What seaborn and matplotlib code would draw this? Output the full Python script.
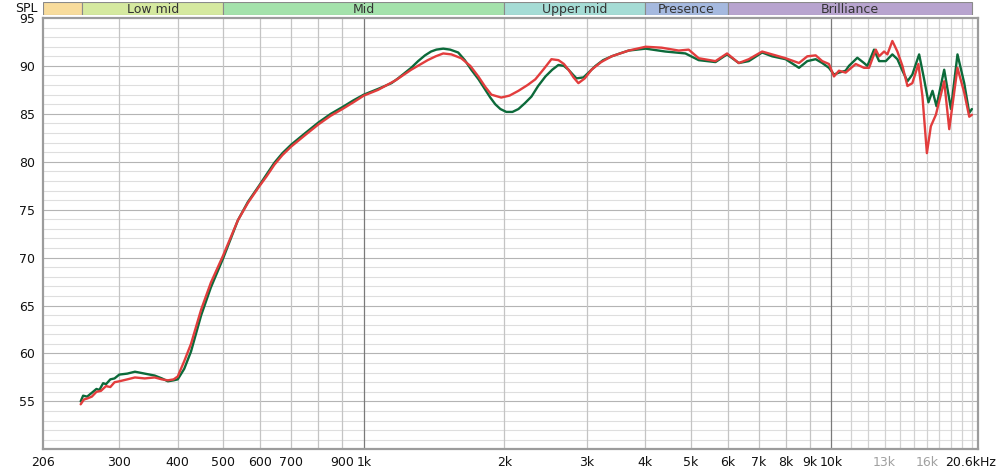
import matplotlib
matplotlib.use("Agg")
import matplotlib.pyplot as plt
import matplotlib.transforms as mtransforms
import seaborn as sns
import pandas as pd

# Frequency response traces (Hz, dB SPL)
green_freq = [248, 251, 256, 262, 268, 272, 277, 281, 287, 293,
              300, 312, 324, 340, 357, 370, 381, 392, 400,
              413, 427, 449, 471, 500, 538, 565, 597, 620, 644, 670, 700, 750, 800, 850, 900, 950, 1000,
              1073, 1146, 1184, 1263, 1307, 1352, 1393, 1430, 1479, 1530, 1592, 1645, 1698,
              1760, 1820, 1865, 1911, 1960, 2018, 2080, 2142, 2210, 2284, 2360, 2447, 2530,
              2609, 2680, 2741, 2800, 2851, 2951, 3040, 3131, 3250, 3390, 3530, 3686,
              4008, 4416, 4875, 5206, 5653, 5985, 6341,
              6662, 7114, 7474, 7985, 8530, 8886, 9261, 9566, 9886, 10134,
              10387, 10733, 10910, 11370, 11750, 11946, 12346, 12655, 13080, 13510,
              13850, 14198, 14554, 14908, 15415, 15800, 16140, 16465, 16790, 17440,
              18030, 18620, 19250, 19730, 19990]
green_spl = [55.0, 55.6, 55.5, 55.9, 56.3, 56.2, 56.9, 56.8, 57.3, 57.4,
             57.8, 57.9, 58.1, 57.9, 57.7, 57.4, 57.1, 57.2, 57.3,
             58.4, 60.2, 64.0, 66.9, 69.9, 73.9, 75.8, 77.5, 78.7, 79.9, 80.9, 81.8, 83.0, 84.1, 85.0, 85.7, 86.4, 87.0,
             87.6, 88.2, 88.7, 89.8, 90.5, 91.1, 91.5, 91.7, 91.8, 91.7, 91.4, 90.6, 89.6,
             88.6, 87.5, 86.7, 86.0, 85.5, 85.2, 85.2, 85.5, 86.1, 86.8, 87.9, 88.9, 89.6,
             90.1, 90.0, 89.6, 89.1, 88.7, 88.8, 89.4, 90.0, 90.6, 91.0, 91.3, 91.6,
             91.8, 91.5, 91.3, 90.6, 90.4, 91.2, 90.3,
             90.5, 91.4, 91.0, 90.7, 89.8, 90.5, 90.7, 90.3, 89.8, 89.1,
             89.3, 89.5, 90.0, 90.85, 90.3, 90.0, 91.7, 90.5, 90.5, 91.2,
             90.7, 89.5, 88.4, 89.1, 91.2, 88.6, 86.2, 87.4, 85.8, 89.6,
             85.5, 91.2, 88.2, 85.1, 85.5]

red_freq = [248, 252, 256, 262, 268, 274, 281, 287, 293, 300,
            312, 324, 340, 357, 370, 381, 392, 400,
            413, 427, 449, 471, 500, 538, 565, 597, 620, 644, 670, 700, 750, 800, 850, 900, 950, 1000,
            1073, 1170, 1263, 1370, 1425, 1479, 1540, 1616, 1690, 1758, 1820, 1875, 1968,
            2050, 2142, 2240, 2328, 2420, 2520, 2609, 2680, 2741, 2810, 2878, 2970, 3070,
            3220, 3390, 3686, 4008, 4337, 4718, 4954, 5206,
            5653, 5985, 6341, 6662, 7114, 7474, 7985, 8530, 8886, 9261,
            9566, 9886, 10134, 10387, 10733, 11281, 11750, 12045, 12451, 12655,
            12970, 13183, 13510, 13850, 14198, 14554, 14908, 15360, 15670, 16015,
            16330, 16740, 17440, 17880, 18620, 19250, 19730, 19990]
red_spl = [54.7, 55.2, 55.3, 55.5, 56.0, 56.1, 56.6, 56.5, 57.0, 57.1,
           57.3, 57.5, 57.4, 57.5, 57.3, 57.2, 57.3, 57.6,
           59.2, 61.0, 64.6, 67.4, 70.2, 73.9, 75.7, 77.4, 78.5, 79.7, 80.7, 81.6, 82.8, 83.9, 84.8, 85.5, 86.2, 86.9,
           87.5, 88.5, 89.6, 90.6, 91.0, 91.3, 91.2, 90.8, 90.0, 88.9, 87.8, 87.0, 86.7,
           86.9, 87.4, 88.0, 88.6, 89.6, 90.7, 90.6, 90.2, 89.6, 88.8, 88.2, 88.7, 89.6,
           90.4, 91.0, 91.6, 92.0, 91.9, 91.6, 91.7, 90.8,
           90.5, 91.3, 90.3, 90.7, 91.5, 91.2, 90.8, 90.3, 91.0, 91.1,
           90.5, 90.2, 88.9, 89.5, 89.3, 90.2, 89.8, 89.8, 91.7, 91.0,
           91.5, 91.2, 92.6, 91.5, 90.0, 87.9, 88.2, 90.2, 86.8, 80.9,
           83.7, 84.9, 88.4, 83.4, 89.8, 87.2, 84.7, 84.9]

# Band strip along the top
band_names = ["", "Low mid", "Mid", "Upper mid", "Presence", "Brilliance"]
band_edges = [206, 250, 500, 2000, 4000, 6000, 20000]
band_colors = ["#f8dc9c", "#d5e99f", "#a4e2ab", "#a5dcd5", "#a5b9df", "#b8a4cf"]

# Axis ticks
x_ticks = [206, 300, 400, 500, 600, 700, 900, 1000, 2000, 3000, 4000, 5000,
           6000, 7000, 8000, 9000, 10000, 13000, 16000, 20600]
x_labels = ["206", "300", "400", "500", "600", "700", "900", "1k", "2k", "3k", "4k", "5k",
            "6k", "7k", "8k", "9k", "10k", "13k", "16k", "20.6kHz"]
y_ticks = [55, 60, 65, 70, 75, 80, 85, 90, 95]

traces = pd.concat([
    pd.DataFrame({"freq": green_freq, "spl": green_spl, "trace": "green"}),
    pd.DataFrame({"freq": red_freq, "spl": red_spl, "trace": "red"}),
])

sns.set_style("white")
plt.rcParams["font.family"] = ["DejaVu Sans"]

fig = plt.figure(figsize=(10, 4.73), dpi=100)
ax = fig.add_axes([0.043, 0.05, 0.935, 0.912])
ax.set_xscale("log")
ax.set_xlim(206, 20600)
ax.set_ylim(50, 95)

# grid lines
for db in range(51, 95):
    ax.axhline(db, color="#b4b4b4" if db % 5 == 0 else "#dedede", lw=0.8, zorder=0)
for f in [300, 400, 500, 600, 700, 800, 900, 2000, 3000, 4000, 5000, 6000, 7000, 8000, 9000]:
    ax.axvline(f, color="#c4c4c4", lw=0.9, zorder=0)
for f in range(11000, 21000, 1000):
    ax.axvline(f, color="#d2d2d2", lw=0.9, zorder=0)
for f in [1000, 10000]:
    ax.axvline(f, color="#7a7a7a", lw=0.9, zorder=0)

sns.lineplot(data=traces, x="freq", y="spl", hue="trace", estimator=None,
             palette={"green": "#0c6a3a", "red": "#e23d3d"}, lw=1.7,
             legend=False, ax=ax, zorder=3)

ax.set_xticks(x_ticks)
ax.set_xticklabels(x_labels)
ax.minorticks_off()
ax.set_yticks(y_ticks)
ax.tick_params(length=0, labelsize=9, colors="#111111")
ax.tick_params(axis="x", pad=5)
ax.tick_params(axis="y", pad=6)
for lbl in ax.get_xticklabels():
    if lbl.get_text() in ("13k", "16k"):
        lbl.set_color("#a0a0a0")
    if lbl.get_text() == "20.6kHz":
        lbl.set_transform(lbl.get_transform() +
                          mtransforms.ScaledTranslation(-7 / 100, 0, fig.dpi_scale_trans))
ax.set_xlabel("")
ax.set_ylabel("")
for side in ax.spines.values():
    side.set_color("#9c9c9c")
    side.set_linewidth(1.6)

# frequency band strip
band_ax = fig.add_axes([0.043, 0.968, 0.935, 0.0275])
band_ax.set_xscale("log")
band_ax.set_xlim(206, 20600)
band_ax.set_ylim(0, 1)
band_ax.axis("off")
for name, lo, hi, col in zip(band_names, band_edges[:-1], band_edges[1:], band_colors):
    band_ax.axvspan(lo, hi, color=col, ec="#8a8a8a", lw=0.8)
    band_ax.text((lo * hi) ** 0.5, 0.45, name, ha="center", va="center",
                 fontsize=9, color="#333333")

fig.text(0.026, 1 - 8 / 473, "SPL", ha="center", va="center", fontsize=9, color="#111111")

plt.savefig("out.png", dpi=100)
